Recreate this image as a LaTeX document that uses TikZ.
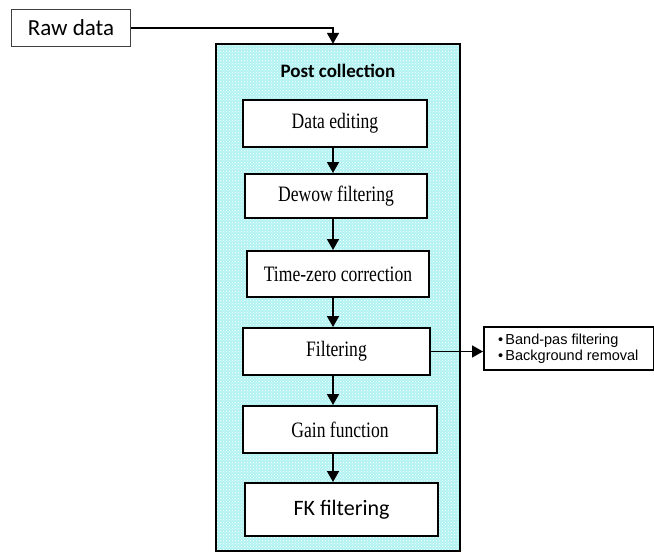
\documentclass[tikz,border=0pt]{standalone}
\usepackage{fontspec}
\setmainfont{Liberation Serif}
\newfontfamily\calib{Carlito}
\newfontfamily\arialf{Liberation Sans}
\newfontfamily\tnr[FakeStretch=0.8]{Liberation Serif}
\usetikzlibrary{arrows.meta,patterns,calc}
\definecolor{bgcyan}{RGB}{178,242,242}
\tikzset{
  stepbox/.style={draw=black,line width=2pt,fill=white,minimum height=46pt,inner sep=0pt,font=\tnr\fontsize{22}{24}\selectfont},
  arr/.style={line width=1.6pt,-{Triangle[width=12pt,length=11pt]}},
}
\begin{document}
\begin{tikzpicture}[x=1pt,y=-1pt]
\useasboundingbox (0,0) rectangle (654,554);
% big container
\node[fill=bgcyan,
      postaction={pattern=crosshatch dots,pattern color=white},
      minimum width=244pt,minimum height=507pt,inner sep=0pt] (big) at (338,297.5) {};
\draw[line width=2pt] (big.north west) rectangle (big.south east);
\node[font=\calib\bfseries\fontsize{19}{22}\selectfont] (title) at (338,71) {Post collection};
% raw data
\node[draw=black!75,line width=1pt,fill=white,minimum width=119pt,minimum height=37pt,inner sep=0pt,
      font=\calib\fontsize{23}{26}\selectfont] (raw) at (71,28) {Raw data};
% steps
\node[stepbox,minimum width=184pt,minimum height=47pt] (de) at (335,123.5) {Data editing};
\node[stepbox,minimum width=182pt,minimum height=44pt] (dw) at (336,196) {Dewow filtering};
\node[stepbox,minimum width=182pt,minimum height=46pt] (tz) at (338,274) {Time-zero correction};
\node[stepbox,minimum width=187pt,minimum height=47pt] (fl) at (336.5,351.5) {Filtering};
\node[stepbox,minimum width=194pt,minimum height=47pt] (gn) at (340,429.5) {Gain function};
\node[stepbox,minimum width=193pt,minimum height=53pt,font=\calib\fontsize{22}{25}\selectfont] (fk) at (341.5,509.5) {FK filtering};
% side box
\node[draw=black,line width=1.5pt,fill=white,minimum width=170pt,minimum height=43pt,inner sep=0pt,
      font=\arialf\fontsize{14.5}{16}\selectfont,align=left,anchor=west] (bul) at (483,348.5)
      {\hspace{-1pt}\textbullet\,Band-pas filtering\hspace{26pt}\\ \hspace{-1pt}\textbullet\,Background removal};
% arrows
\coordinate (ax) at (333,0);
\draw[arr] (raw.east) -| (big.north -| ax);
\draw[arr] (de.south -| ax) -- (dw.north -| ax);
\draw[arr] (dw.south -| ax) -- (tz.north -| ax);
\draw[arr] (tz.south -| ax) -- (fl.north -| ax);
\draw[arr] (fl.south -| ax) -- (gn.north -| ax);
\draw[arr] (gn.south -| ax) -- (fk.north -| ax);
\draw[arr] (fl.east) -- (fl.east -| bul.west);
\end{tikzpicture}
\end{document}
